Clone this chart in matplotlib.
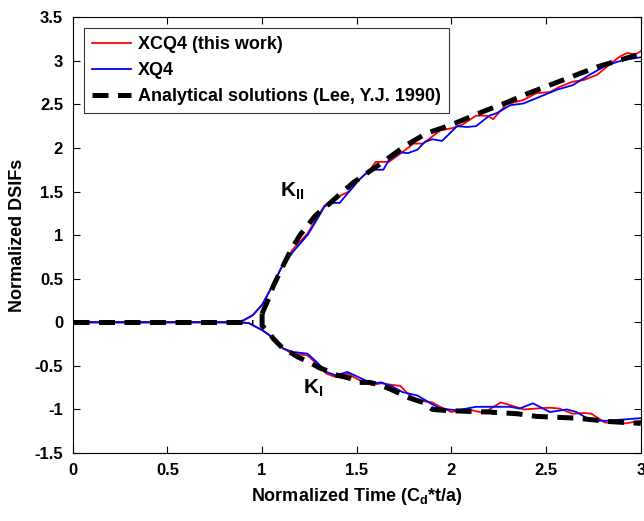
import matplotlib
matplotlib.use("Agg")
import matplotlib.pyplot as plt

plt.rcParams['font.family'] = ['Liberation Sans', 'DejaVu Sans']
plt.rcParams['font.weight'] = 'bold'
plt.rcParams['mathtext.fontset'] = 'custom'
plt.rcParams['mathtext.rm'] = 'Liberation Sans:bold'
plt.rcParams['mathtext.it'] = 'Liberation Sans:bold'
plt.rcParams['mathtext.default'] = 'rm'

# ---- data ----
kii_red_t = [0, 0.85, 0.9, 0.95, 1.0, 1.05, 1.1, 1.16, 1.24, 1.29, 1.33, 1.36, 1.41, 1.46, 1.51,
             1.57, 1.6, 1.67, 1.74, 1.8, 1.85, 1.94, 2.01, 2.06, 2.13, 2.19, 2.22, 2.29, 2.38,
             2.45, 2.52, 2.57, 2.64, 2.7, 2.77, 2.82, 2.89, 2.93, 2.97, 3.0]
kii_red_v = [0, 0.0, 0.02, 0.08, 0.2, 0.4, 0.62, 0.83, 1.02, 1.2, 1.34, 1.38, 1.45, 1.5, 1.63,
             1.75, 1.84, 1.84, 1.95, 2.05, 2.05, 2.2, 2.23, 2.27, 2.37, 2.37, 2.33, 2.5, 2.55,
             2.63, 2.64, 2.7, 2.76, 2.78, 2.84, 2.93, 3.05, 3.09, 3.07, 3.11]

kii_blue_t = [0, 0.85, 0.9, 0.95, 1.0, 1.05, 1.1, 1.16, 1.24, 1.29, 1.33, 1.37, 1.41, 1.46, 1.51,
              1.57, 1.64, 1.67, 1.73, 1.77, 1.82, 1.86, 1.9, 1.95, 2.03, 2.08, 2.13, 2.2, 2.24,
              2.31, 2.38, 2.47, 2.56, 2.64, 2.73, 2.82, 2.91, 3.0]
kii_blue_v = [0, 0.0, 0.02, 0.08, 0.2, 0.4, 0.62, 0.8, 1.0, 1.18, 1.33, 1.37, 1.37, 1.5, 1.63,
              1.75, 1.75, 1.86, 1.95, 1.94, 1.98, 2.07, 2.1, 2.08, 2.25, 2.24, 2.25, 2.37, 2.4,
              2.49, 2.51, 2.59, 2.67, 2.72, 2.84, 2.95, 3.01, 3.04]

ki_red_t = [0, 0.88, 0.93, 1.0, 1.04, 1.08, 1.11, 1.16, 1.24, 1.29, 1.34, 1.39, 1.45, 1.52, 1.58,
            1.63, 1.69, 1.73, 1.78, 1.83, 1.9, 1.94, 2.0, 2.04, 2.11, 2.17, 2.26, 2.31, 2.38,
            2.52, 2.57, 2.64, 2.7, 2.74, 2.81, 2.92, 3.0]
ki_red_v = [0, 0.0, -0.01, -0.09, -0.15, -0.23, -0.3, -0.36, -0.38, -0.48, -0.59, -0.63, -0.59,
            -0.67, -0.72, -0.7, -0.72, -0.73, -0.84, -0.9, -0.92, -0.97, -1.03, -1.01, -1.01,
            -1.04, -0.92, -0.95, -1.0, -0.98, -0.99, -1.05, -1.04, -1.05, -1.15, -1.16, -1.13]

ki_blue_t = [0, 0.88, 0.93, 1.0, 1.04, 1.08, 1.11, 1.16, 1.24, 1.29, 1.34, 1.39, 1.45, 1.52, 1.58,
             1.63, 1.69, 1.74, 1.82, 1.89, 1.94, 2.03, 2.13, 2.2, 2.31, 2.36, 2.43, 2.52, 2.61,
             2.66, 2.74, 2.82, 3.0]
ki_blue_v = [0, 0.0, -0.01, -0.09, -0.15, -0.23, -0.3, -0.34, -0.36, -0.46, -0.57, -0.61, -0.57,
             -0.64, -0.7, -0.69, -0.74, -0.8, -0.84, -0.93, -0.99, -1.01, -0.97, -0.97, -0.97,
             -0.99, -0.93, -1.03, -1.0, -1.03, -1.13, -1.13, -1.1]

ana_zero_t = [0, 0.95]
ana_zero_v = [0, 0]

ana_kii_t = [1.0, 1.03, 1.06, 1.1, 1.15, 1.2, 1.28, 1.36, 1.48, 1.6, 1.76, 1.87, 1.98, 2.06,
             2.17, 2.29, 2.41, 2.59, 2.77, 3.0]
ana_kii_v = [0.1, 0.25, 0.42, 0.6, 0.82, 1.0, 1.22, 1.37, 1.6, 1.78, 2.03, 2.17, 2.25, 2.32,
             2.42, 2.52, 2.63, 2.78, 2.93, 3.08]

ana_ki_t = [1.0, 1.0, 1.03, 1.06, 1.11, 1.16, 1.19, 1.25, 1.3, 1.36, 1.4, 1.46, 1.51, 1.57,
            1.62, 1.67, 1.78, 1.85, 1.9, 1.96, 2.06, 2.2, 2.35, 2.45, 2.66, 2.84, 3.0]
ana_ki_v = [0.1, -0.04, -0.1, -0.19, -0.3, -0.36, -0.4, -0.46, -0.52, -0.57, -0.61, -0.64,
            -0.69, -0.69, -0.72, -0.76, -0.87, -0.92, -1.0, -1.01, -1.02, -1.03, -1.05, -1.08,
            -1.1, -1.14, -1.16]

xticks = [0, 0.5, 1, 1.5, 2, 2.5, 3]
xticklabels = ['0', '0.5', '1', '1.5', '2', '2.5', '3']
yticks = [-1.5, -1, -0.5, 0, 0.5, 1, 1.5, 2, 2.5, 3, 3.5]
yticklabels = ['-1.5', '-1', '-0.5', '0', '0.5', '1', '1.5', '2', '2.5', '3', '3.5']

# ---- plot ----
fig = plt.figure(figsize=(6.44, 5.21), dpi=100)
ax = fig.add_axes([0.113, 0.1305, 0.882, 0.8365])

lw = 1.3
ax.plot(kii_red_t, kii_red_v, color='#ff0000', lw=lw, label='XCQ4 (this work)')
ax.plot(kii_blue_t, kii_blue_v, color='#0000ff', lw=lw, label='XQ4')
ax.plot(ki_red_t, ki_red_v, color='#ff0000', lw=lw)
ax.plot(ki_blue_t, ki_blue_v, color='#0000ff', lw=lw)
dash = dict(color='black', lw=3.6, dashes=(3.2, 1.9))
ax.plot(ana_zero_t, ana_zero_v, label='Analytical solutions (Lee, Y.J. 1990)', **dash)
ax.plot(ana_kii_t, ana_kii_v, **dash)
ax.plot(ana_ki_t, ana_ki_v, **dash)

ax.set_xlim(0, 3)
ax.set_ylim(-1.5, 3.5)
ax.set_xticks(xticks)
ax.set_xticklabels(xticklabels)
ax.set_yticks(yticks)
ax.set_yticklabels(yticklabels)
ax.tick_params(direction='in', top=True, right=True, length=5, width=0.8,
               labelsize=12, pad=7)
for lab in ax.get_xticklabels() + ax.get_yticklabels():
    lab.set_fontweight('bold')
for s in ax.spines.values():
    s.set_linewidth(0.8)

ax.set_xlabel('Normalized Time (C$_{d}$*t/a)', fontsize=13, fontweight='bold', labelpad=6)
ax.set_ylabel('Normalized DSIFs', fontsize=13, fontweight='bold', labelpad=6)

ax.text(1.16, 1.5, 'K$_{II}$', fontsize=15, fontweight='bold', ha='center', va='center')
ax.text(1.27, -0.76, 'K$_{I}$', fontsize=15, fontweight='bold', ha='center', va='center')

leg = ax.legend(loc='upper left', fontsize=13, frameon=True, fancybox=False,
                edgecolor='black', handlelength=2.2, handletextpad=0.35,
                borderaxespad=0.6, labelspacing=0.5, borderpad=0.45)
leg.get_frame().set_linewidth(0.8)
for t in leg.get_texts():
    t.set_fontweight('bold')

fig.savefig('out.png', dpi=100)
